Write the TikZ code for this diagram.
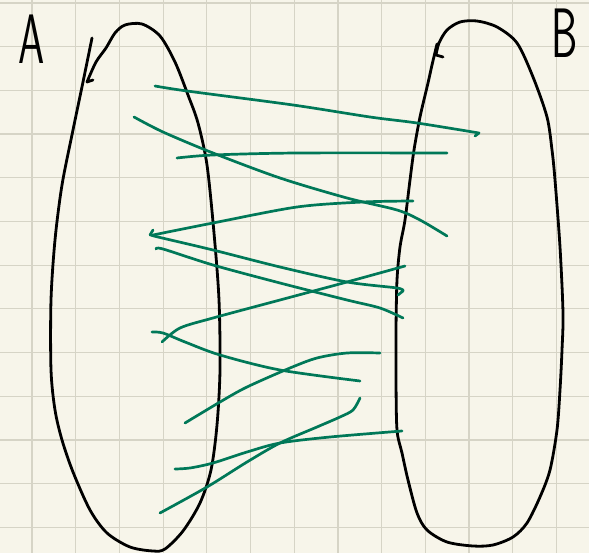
\documentclass[tikz,border=0pt]{standalone}
\usetikzlibrary{calc}
\definecolor{paperbg}{RGB}{247,245,234}
\definecolor{gridgray}{RGB}{214,212,198}
\definecolor{penGreen}{RGB}{0,120,88}

\newcommand{\drawPaperGrid}{
    \fill[paperbg] (0,0) rectangle (589,553);
    \foreach \k in {0,...,12} {
        \draw[grid line] ({32+43.7*\k},0) -- ({32+43.7*\k},553);
        \draw[grid line] (0,{3+43.7*\k}) -- (589,{3+43.7*\k});
    }
}
\newcommand{\handLetter}[1]{\scalebox{0.6}[1]{#1}}

\begin{document}
\begin{tikzpicture}[
    x=1pt, y=-1pt,
    % Estilos del papel
    grid line/.style={draw=gridgray, line width=1.2pt},
    % Estilos de conjuntos
    set outline/.style={draw=black, line width=2.8pt, line cap=round, line join=round},
    set label/.style={font=\sffamily\fontsize{70}{70}\selectfont, inner sep=0pt, text=black},
    % Estilos de flechas (relacion)
    map line/.style={draw=penGreen, line width=2.7pt, line cap=round, line join=round}
]
\useasboundingbox (0,0) rectangle (589,553);

% 1. Papel cuadriculado
\drawPaperGrid

% 2. Conjunto A
\draw[set outline] plot[smooth] coordinates {(92,38) (83,82) (73,130) (62,185) (55,240) (51,300) (51,370)
    (55,410) (62,440) (73,472) (90,510) (107,533) (130,547) (153,551) (165,549) (183,531) (200,503)
    (211,470) (217,425) (220,370) (219,300) (214,233) (207,165) (198,123) (188,95) (175,62) (160,36)
    (142,24) (125,25) (115,33) (106,48) (96,62) (87,82)} -- (93,80);
\node[set label] (labelA) at (32,39) {\handLetter{A}};

% 3. Conjunto B
\draw[set outline] plot[smooth] coordinates {(437,44) (432,65) (428,83) (420,117) (414,150) (410,180)
    (405,220) (400,247) (397,280) (396,330) (396,380) (397,430) (402,453) (408,480) (417,513) (427,530)
    (447,542) (473,546) (493,545) (513,537) (527,523) (540,497) (550,470) (557,430) (560,390) (562,350)
    (563,313) (560,247) (555,180) (552,150) (547,117) (533,77) (517,43) (497,27) (477,21) (460,22)
    (447,30) (439,43) (436,55)} -- (443,57);
\node[set label] (labelB) at (565,33) {\handLetter{B}};

% 4. Trazos verdes entre A y B
\draw[map line] plot[smooth] coordinates {(155,86) (187,91) (293,105) (370,117) (417,123) (479,133)} -- (475,136);
\draw[map line] plot[smooth] coordinates {(134,117) (163,132) (213,153) (280,178) (347,198) (397,210) (420,220) (447,236)};
\draw[map line] plot[smooth] coordinates {(177,158) (213,155) (297,153) (447,153)};
\draw[map line] plot[smooth] coordinates {(413,201) (363,202) (297,207) (213,223) (153,235)};
\draw[map line] (150,235) -- (153,230);
\draw[map line] plot[smooth] coordinates {(151,235) (158,237) (213,250) (280,267) (347,282) (397,288) (403,291)} -- (398,295);
\draw[map line] plot[smooth] coordinates {(156,249) (163,249) (213,265) (280,283) (347,300) (380,308) (403,318)};
\draw[map line] plot[smooth] coordinates {(405,266) (347,282) (280,300) (213,318) (180,328) (162,342)};
\draw[map line] plot[smooth] coordinates {(152,332) (163,333) (185,342) (220,355) (280,370) (360,381)};
\draw[map line] plot[smooth] coordinates {(185,423) (220,402) (247,387) (290,368) (317,358) (347,353) (380,353)};
\draw[map line] plot[smooth] coordinates {(360,398) (353,410) (340,417) (317,427) (280,443) (247,462) (207,487) (160,513)};
\draw[map line] plot[smooth] coordinates {(175,469) (190,468) (213,463) (247,452) (280,443) (330,437) (402,431)};

\end{tikzpicture}
\end{document}
